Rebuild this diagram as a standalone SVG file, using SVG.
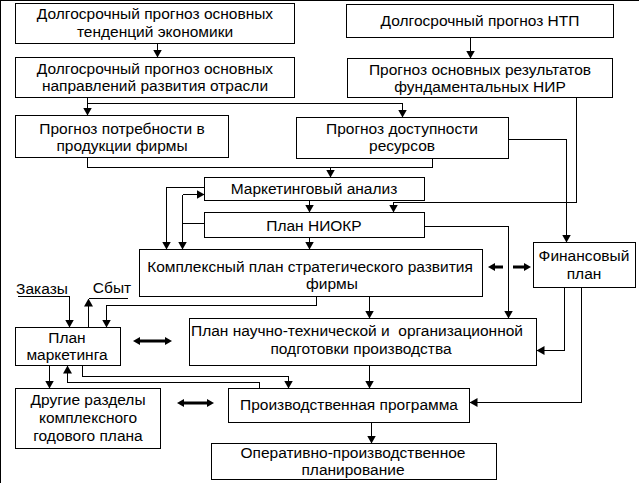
<svg xmlns="http://www.w3.org/2000/svg" width="639" height="483" viewBox="0 0 639 483">
<style>
rect{fill:#fff;stroke:#000;stroke-width:1;shape-rendering:crispEdges}
text{font-family:"Liberation Sans",Arial,sans-serif;font-size:15.5px;fill:#000;text-anchor:middle}
.c path,.c line,.c polyline{fill:none;stroke:#000;stroke-width:1;shape-rendering:crispEdges}
.c .ar{marker-end:url(#a)}
.t{fill:#000;stroke:none}
</style>
<defs>
<marker id="a" viewBox="0 0 8 9" refX="8" refY="4.5" markerWidth="8" markerHeight="9" markerUnits="userSpaceOnUse" orient="auto"><path d="M0,0 L8,4.5 L0,9 z" fill="#000"/></marker>
</defs>
<rect width="639" height="483" fill="#fff" stroke="none"/>
<g id="n1"><rect x="15.5" y="3.5" width="279" height="40"/><text x="155" y="19">Долгосрочный прогноз основных</text><text x="155" y="37">тенденций экономики</text></g>
<g id="n2"><rect x="15.5" y="57.5" width="279" height="40"/><text x="155" y="74">Долгосрочный прогноз основных</text><text x="155" y="91">направлений развития отрасли</text></g>
<g id="n3"><rect x="346.5" y="4.5" width="267" height="33"/><text x="480" y="26">Долгосрочный прогноз НТП</text></g>
<g id="n4"><rect x="347.5" y="58.5" width="265" height="39"/><text x="480" y="75">Прогноз основных результатов</text><text x="480" y="92">фундаментальных НИР</text></g>
<g id="n5"><rect x="15.5" y="115.5" width="213" height="42"/><text x="122" y="134">Прогноз потребности в</text><text x="122" y="151">продукции фирмы</text></g>
<g id="n6"><rect x="296.5" y="117.5" width="212" height="41"/><text x="402" y="134">Прогноз доступности</text><text x="402" y="151">ресурсов</text></g>
<g id="n7"><rect x="204.5" y="177.5" width="220" height="23"/><text x="314" y="194">Маркетинговый анализ</text></g>
<g id="n8"><rect x="204.5" y="212.5" width="220" height="25"/><text x="314" y="231">План НИОКР</text></g>
<g id="n9"><rect x="139.5" y="249.5" width="343" height="47"/><text x="310" y="272">Комплексный план стратегического развития</text><text x="332" y="289">фирмы</text></g>
<g id="n10"><rect x="533.5" y="242.5" width="102" height="45"/><text x="584" y="261">Финансовый</text><text x="584" y="279">план</text></g>
<g id="n11"><rect x="15.5" y="327.5" width="105" height="38"/><text x="67" y="343">План</text><text x="67" y="360">маркетинга</text></g>
<g id="n12"><rect x="189.5" y="318.5" width="347" height="47"/><text x="357" y="336" xml:space="preserve">План научно-технической и  организационной</text><text x="361" y="354">подготовки производства</text></g>
<g id="n13"><rect x="15.5" y="388.5" width="145" height="60"/><text x="88" y="405">Другие разделы</text><text x="88" y="423">комплексного</text><text x="88" y="441">годового плана</text></g>
<g id="n14"><rect x="228.5" y="388.5" width="241" height="34"/><text x="349" y="410">Производственная программа</text></g>
<g id="n15"><rect x="211.5" y="443.5" width="285" height="36"/><text x="353" y="458">Оперативно-производственное</text><text x="353" y="475">планирование</text></g>
<g id="labels"><text x="42" y="294">Заказы</text><text x="112" y="293">Сбыт</text></g>
<g id="connectors" class="c">
<line class="ar" x1="157.5" y1="43.5" x2="157.5" y2="57.5"/>
<line class="ar" x1="470.5" y1="37.5" x2="470.5" y2="58.5"/>
<line class="ar" x1="87.5" y1="97.5" x2="87.5" y2="115.5"/>
<polyline class="ar" points="87.5,103.5 402.5,103.5 402.5,117.5"/>
<polyline points="87.5,157.5 87.5,167.5 432.5,167.5 432.5,158.5"/>
<line class="ar" x1="330.5" y1="167.5" x2="330.5" y2="177.5"/>
<polyline class="ar" points="508.5,139.5 566.5,139.5 566.5,242.5"/>
<polyline class="ar" points="576.5,97.5 576.5,202.5 393.5,202.5 393.5,212.5"/>
<line class="ar" x1="309.5" y1="200.5" x2="309.5" y2="212.5"/>
<line class="ar" x1="309.5" y1="237.5" x2="309.5" y2="249.5"/>
<polyline class="ar" points="204.5,187.5 166.5,187.5 166.5,249.5"/>
<line x1="204.5" y1="223.5" x2="182.5" y2="223.5"/>
<line class="ar" x1="182.5" y1="194.5" x2="182.5" y2="249.5"/>
<line class="ar" x1="182.5" y1="194.5" x2="204.5" y2="194.5"/>
<polyline class="ar" points="424.5,226.5 508.5,226.5 508.5,318.5"/>
<line class="ar" x1="369.5" y1="296.5" x2="369.5" y2="318.5"/>
<polyline class="ar" points="316.5,296.5 316.5,305.5 106.5,305.5 106.5,327.5"/>
<polyline class="ar" points="17.5,296.5 69.5,296.5 69.5,327.5"/>
<line x1="88.5" y1="298.5" x2="127.5" y2="298.5"/>
<line class="ar" x1="88.5" y1="327.5" x2="88.5" y2="298.5"/>
<line class="ar" x1="369.5" y1="365.5" x2="369.5" y2="388.5"/>
<polyline class="ar" points="564.5,287.5 564.5,350.5 536.5,350.5"/>
<polyline class="ar" points="581.5,287.5 581.5,402.5 469.5,402.5"/>
<line class="ar" x1="49.5" y1="365.5" x2="49.5" y2="388.5"/>
<polyline class="ar" points="259.5,388.5 259.5,382.5 67.5,382.5 67.5,365.5"/>
<polyline class="ar" points="82.5,365.5 82.5,376.5 288.5,376.5 288.5,388.5"/>
<line class="ar" x1="371.5" y1="422.5" x2="371.5" y2="443.5"/>
<polygon class="t" points="133,341 140,337 140,339.5 165,339.5 165,337 172,341 165,345 165,342.5 140,342.5 140,345"/>
<polygon class="t" points="177,403 184,399 184,401.5 207,401.5 207,399 214,403 207,407 207,404.5 184,404.5 184,407"/>
<polygon class="t" points="488,267 495,263 495,265.5 503,265.5 503,268.5 495,268.5 495,271"/>
<polygon class="t" points="531,267 524,263 524,265.5 513,265.5 513,268.5 524,268.5 524,271"/>
</g>
</svg>
